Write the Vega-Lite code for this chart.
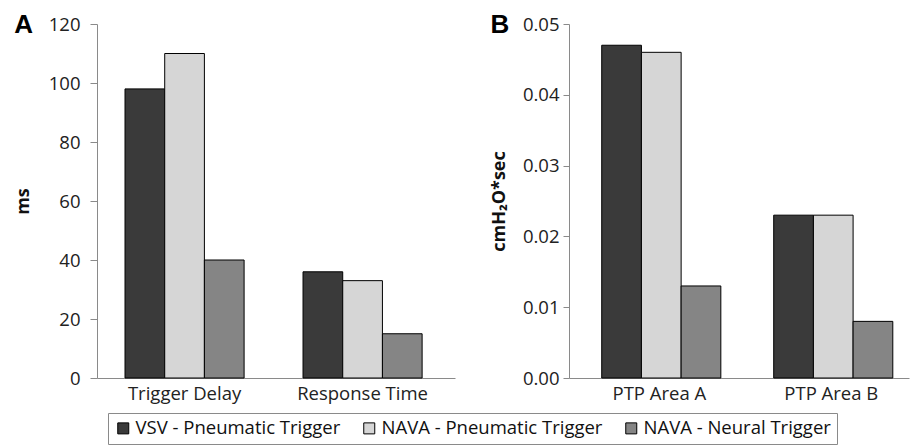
{
  "$schema": "https://vega.github.io/schema/vega-lite/v6.json",
  "background": "white",
  "padding": {"left": 14, "top": 12, "right": 2, "bottom": 2},
  "spacing": 35,
  "datasets": {
    "a": [
      {"measure": "Trigger Delay", "mode": "VSV - Pneumatic Trigger", "value": 98},
      {"measure": "Trigger Delay", "mode": "NAVA - Pneumatic Trigger", "value": 110},
      {"measure": "Trigger Delay", "mode": "NAVA - Neural Trigger", "value": 40},
      {"measure": "Response Time", "mode": "VSV - Pneumatic Trigger", "value": 36},
      {"measure": "Response Time", "mode": "NAVA - Pneumatic Trigger", "value": 33},
      {"measure": "Response Time", "mode": "NAVA - Neural Trigger", "value": 15}
    ],
    "b": [
      {"measure": "PTP Area A", "mode": "VSV - Pneumatic Trigger", "value": 0.047},
      {"measure": "PTP Area A", "mode": "NAVA - Pneumatic Trigger", "value": 0.046},
      {"measure": "PTP Area A", "mode": "NAVA - Neural Trigger", "value": 0.013},
      {"measure": "PTP Area B", "mode": "VSV - Pneumatic Trigger", "value": 0.023},
      {"measure": "PTP Area B", "mode": "NAVA - Pneumatic Trigger", "value": 0.023},
      {"measure": "PTP Area B", "mode": "NAVA - Neural Trigger", "value": 0.008}
    ]
  },
  "hconcat": [
    {
      "width": 358,
      "height": 354,
      "title": {"text": "A", "anchor": "start", "frame": "bounds", "fontSize": 26, "font": "Liberation Sans", "fontWeight": "bold", "offset": -23, "color": "black"},
      "data": {"name": "a"},
      "mark": {"type": "bar", "stroke": "black", "strokeWidth": 1},
      "encoding": {
        "x": {"field": "measure", "type": "nominal", "sort": ["Trigger Delay", "Response Time"],
          "scale": {"paddingInner": 0.331, "paddingOuter": 0.171, "align": 0.46},
          "axis": {"title": null, "labelAngle": 0, "ticks": false, "labelPadding": 6}},
        "xOffset": {"field": "mode", "type": "nominal", "sort": ["VSV - Pneumatic Trigger", "NAVA - Pneumatic Trigger", "NAVA - Neural Trigger"],
          "scale": {"paddingInner": 0, "paddingOuter": 0}},
        "y": {"field": "value", "type": "quantitative", "scale": {"domain": [0, 120]},
          "axis": {"title": "ms", "values": [0, 20, 40, 60, 80, 100, 120], "tickSize": 7, "labelPadding": 10, "titlePadding": 16}},
        "color": {"field": "mode", "type": "nominal",
          "scale": {"domain": ["VSV - Pneumatic Trigger", "NAVA - Pneumatic Trigger", "NAVA - Neural Trigger"], "range": ["#3a3a3a", "#d6d6d6", "#858585"]},
          "legend": {"title": null, "orient": "none", "legendX": 11, "legendY": 389, "direction": "horizontal"}}
      }
    },
    {
      "width": 340,
      "height": 354,
      "title": {"text": "B", "anchor": "start", "frame": "bounds", "fontSize": 26, "font": "Liberation Sans", "fontWeight": "bold", "offset": -23, "color": "black"},
      "data": {"name": "b"},
      "mark": {"type": "bar", "stroke": "black", "strokeWidth": 1},
      "encoding": {
        "x": {"field": "measure", "type": "nominal", "sort": ["PTP Area A", "PTP Area B"],
          "scale": {"paddingInner": 0.33, "paddingOuter": 0.1535, "align": 0.62},
          "axis": {"title": null, "labelAngle": 0, "ticks": false, "labelPadding": 6}},
        "xOffset": {"field": "mode", "type": "nominal", "sort": ["VSV - Pneumatic Trigger", "NAVA - Pneumatic Trigger", "NAVA - Neural Trigger"],
          "scale": {"paddingInner": 0, "paddingOuter": 0}},
        "y": {"field": "value", "type": "quantitative", "scale": {"domain": [0, 0.05]},
          "axis": {"title": "cmH₂O*sec", "values": [0, 0.01, 0.02, 0.03, 0.04, 0.05], "format": ".2f", "tickSize": 6, "labelPadding": 4, "titlePadding": 14}},
        "color": {"field": "mode", "type": "nominal",
          "scale": {"domain": ["VSV - Pneumatic Trigger", "NAVA - Pneumatic Trigger", "NAVA - Neural Trigger"], "range": ["#3a3a3a", "#d6d6d6", "#858585"]}}
      }
    }
  ],
  "config": {
    "view": {"stroke": null},
    "axis": {
      "grid": false,
      "domainColor": "#8a8a8a",
      "tickColor": "#8a8a8a",
      "labelFont": "Open Sans",
      "labelFontSize": 18.5,
      "labelColor": "#222",
      "titleFont": "Open Sans",
      "titleFontSize": 18,
      "titleFontWeight": "bold",
      "titleColor": "#111"
    },
    "legend": {
      "symbolType": "square",
      "symbolSize": 121,
      "symbolStrokeColor": "black",
      "symbolStrokeWidth": 1,
      "labelFont": "Open Sans",
      "labelFontSize": 18.5,
      "labelColor": "#111",
      "labelLimit": 400,
      "labelOffset": 3,
      "columnPadding": 19,
      "strokeColor": "#8a8a8a",
      "padding": 6
    }
  }
}
